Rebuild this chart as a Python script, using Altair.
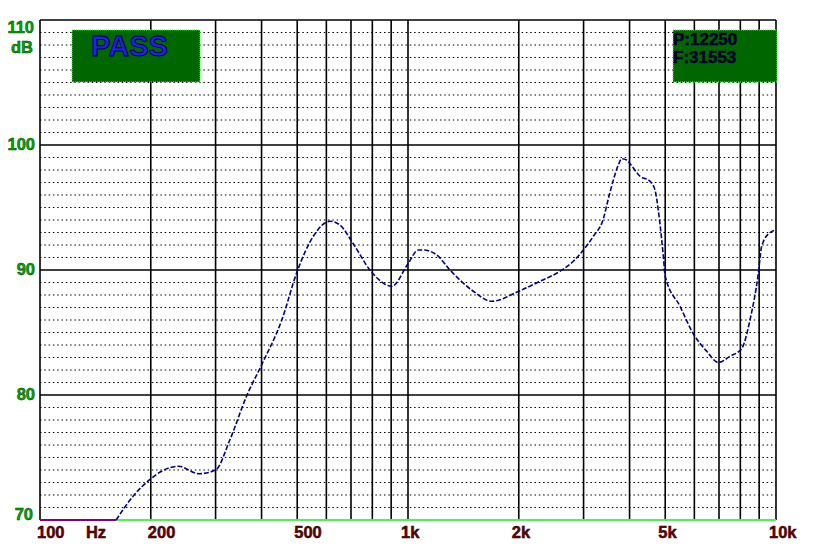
import altair as alt
import pandas as pd

# ---- data ----
freq = [161, 179, 200, 214, 238, 270, 300, 328, 364, 400,
        454, 500, 553, 614, 653, 710, 788, 903, 1000, 1067,
        1101, 1197, 1300, 1505, 1688, 2000, 2285, 2588, 2813, 2995,
        3189, 3395, 3503, 3614, 3728, 3808, 3929, 4012, 4270, 4546,
        4690, 4787, 4941, 5000, 5483, 5961, 6481, 6972, 7499, 8066,
        8497, 8951, 9143, 9632, 10000]
spl = [70.0, 71.9, 73.3, 73.9, 74.3, 73.7, 74.0, 76.4, 79.9, 82.4,
       86.0, 89.9, 92.7, 93.9, 93.6, 92.1, 90.0, 88.7, 90.5, 91.6,
       91.6, 91.2, 90.0, 88.3, 87.5, 88.3, 89.1, 89.9, 90.7, 91.6,
       92.7, 94.1, 95.7, 97.2, 98.4, 98.9, 98.8, 98.5, 97.5, 97.1,
       96.4, 94.8, 91.1, 89.5, 87.1, 84.9, 83.5, 82.6, 83.1, 83.7,
       86.0, 89.7, 91.9, 93.0, 93.2]
clip_freq = [100, 161]
clip_spl = [70, 70]

grid_freq = [100, 200, 300, 400, 500, 600, 700, 800, 900,
             1000, 2000, 3000, 4000, 5000, 6000, 7000, 8000, 9000, 10000]
major_db = [80, 90, 100, 110]
minor_db = [d for d in range(71, 110) if d % 10 != 0]
base_db = [70]

ylab_mid = ["100", "90", "80"]
ylab_mid_v = [100, 90, 80]
xlab_num = ["100", "200", "500"]
xlab_num_f = [100, 200, 500]
xlab_k = ["1k", "2k", "5k", "10k"]
xlab_k_f = [1000, 2000, 5000, 10000]

W, H = 736, 500
FONT = "Liberation Sans"

xs = alt.Scale(type="log", domain=[100, 10000], nice=False)
ys = alt.Scale(domain=[70, 110], nice=False, zero=False)

def X(field="f"):
    return alt.X(f"{field}:Q", scale=xs, axis=None)

def Y(field="d"):
    return alt.Y(f"{field}:Q", scale=ys, axis=None)

vgrid = alt.Chart(pd.DataFrame({"f": grid_freq})).mark_rule(
    color="black", strokeWidth=1.6
).encode(x=X(), y=alt.value(0), y2=alt.value(H))

minor = alt.Chart(pd.DataFrame({"d": minor_db})).mark_rule(
    color="black", strokeWidth=1, strokeDash=[1.5, 2.8]
).encode(y=Y(), x=alt.value(0), x2=alt.value(W))

major = alt.Chart(pd.DataFrame({"d": major_db})).mark_rule(
    color="black", strokeWidth=1.6
).encode(y=Y(), x=alt.value(0), x2=alt.value(W))

base = alt.Chart(pd.DataFrame({"d": base_db})).mark_rule(
    color="#55ee55", strokeWidth=2
).encode(y=Y(), x=alt.value(0), x2=alt.value(W))

curve = alt.Chart(pd.DataFrame({"f": freq, "d": spl})).mark_line(
    color="#000080", strokeWidth=1.6, strokeDash=[5, 2], interpolate="monotone"
).encode(x=X(), y=Y())

clipped = alt.Chart(pd.DataFrame({"f": clip_freq, "d": clip_spl})).mark_line(
    color="#800080", strokeWidth=2
).encode(x=X(), y=Y())

one = pd.DataFrame({"k": [0]})

box_pass = alt.Chart(one).mark_rect(
    fill="#006600", stroke="#44ff44", strokeWidth=1, strokeDash=[1, 1]
).encode(x=alt.value(32), x2=alt.value(160), y=alt.value(10), y2=alt.value(62))

box_pf = alt.Chart(one).mark_rect(
    fill="#006600", stroke="#44ff44", strokeWidth=1, strokeDash=[1, 1]
).encode(x=alt.value(633), x2=alt.value(737), y=alt.value(10), y2=alt.value(62))

pass_txt = alt.Chart(pd.DataFrame({"t": ["PASS"]})).mark_text(
    font=FONT, fontSize=29, fontWeight="bold", color="#2020e8",
    stroke="#000050", strokeWidth=0.9, align="left", baseline="middle"
).encode(text="t:N", x=alt.value(51), y=alt.value(27))

pf_txt = alt.Chart(pd.DataFrame({"t": ["P:12250", "F:31553"], "yy": [20, 38]})).mark_text(
    font=FONT, fontSize=17, fontWeight="bold", color="#000030",
    stroke="#000020", strokeWidth=0.5, align="left", baseline="middle"
).encode(text="t:N", x=alt.value(633), y=alt.Y("yy:Q", scale=None, axis=None))

GREEN = "#00a800"
RED = "#6a0000"
LBL = dict(font=FONT, fontSize=16.5, fontWeight="bold", strokeWidth=0.5)

y110 = alt.Chart(pd.DataFrame({"t": ["110"], "d": [110]})).mark_text(
    color=GREEN, stroke="#004000", align="right", baseline="middle", dy=8, **LBL
).encode(text="t:N", y=Y(), x=alt.value(-6))

ydb = alt.Chart(pd.DataFrame({"t": ["dB"], "d": [110]})).mark_text(
    color=GREEN, stroke="#004000", align="right", baseline="middle", dy=28, **LBL
).encode(text="t:N", y=Y(), x=alt.value(-7))

ymid = alt.Chart(pd.DataFrame({"t": ylab_mid, "d": ylab_mid_v})).mark_text(
    color=GREEN, stroke="#004000", align="right", baseline="middle", **LBL
).encode(text="t:N", y=Y(), x=alt.value(-5))

y70 = alt.Chart(pd.DataFrame({"t": ["70"], "d": [70]})).mark_text(
    color=GREEN, stroke="#004000", align="right", baseline="middle", dy=-5, **LBL
).encode(text="t:N", y=Y(), x=alt.value(-7))

xnum = alt.Chart(pd.DataFrame({"t": xlab_num, "f": xlab_num_f})).mark_text(
    color=RED, stroke="#200000", align="left", baseline="middle", dx=-3, **LBL
).encode(text="t:N", x=X(), y=alt.value(H + 13))

xk = alt.Chart(pd.DataFrame({"t": xlab_k, "f": xlab_k_f})).mark_text(
    color=RED, stroke="#200000", align="left", baseline="middle", dx=-7, **LBL
).encode(text="t:N", x=X(), y=alt.value(H + 13))

hz = alt.Chart(pd.DataFrame({"t": ["Hz"]})).mark_text(
    color=RED, stroke="#200000", align="center", baseline="middle", **LBL
).encode(text="t:N", x=alt.value(56), y=alt.value(H + 13))

chart = alt.layer(
    minor, vgrid, major, base, curve, clipped,
    box_pass, box_pf, pass_txt, pf_txt,
    y110, ydb, ymid, y70, xnum, xk, hz
).properties(
    width=W, height=H,
    autosize=alt.AutoSizeParams(type="none"),
    padding={"left": 32, "top": 12, "right": 30, "bottom": 28},
    background="white"
).configure_view(stroke=None)

chart.save("out.html", embed_options={"renderer": "svg", "actions": False})
